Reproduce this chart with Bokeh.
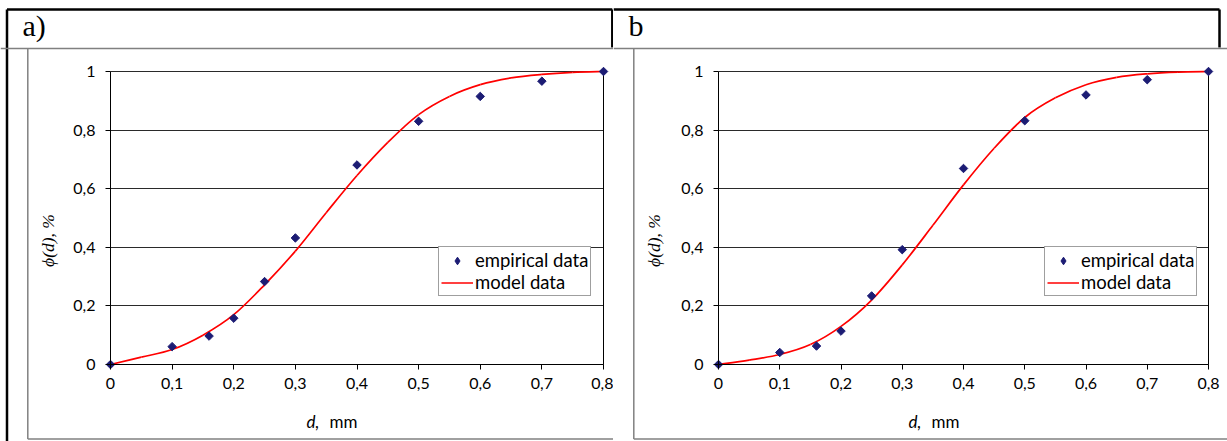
import math
from bokeh.plotting import figure
from bokeh.layouts import row
from bokeh.models import (Range1d, FixedTicker, CustomJSTickFormatter, Legend,
                          LegendItem, Label, Arrow)
from bokeh.embed import file_html
from bokeh.resources import INLINE

# ---------------- data ----------------
d_emp = [0, 0.1, 0.16, 0.2, 0.25, 0.3, 0.4, 0.5, 0.6, 0.7, 0.8]
phi_emp_a = [0, 0.061, 0.097, 0.158, 0.283, 0.432, 0.681, 0.830, 0.915, 0.967, 1.0]
phi_emp_b = [0, 0.041, 0.063, 0.114, 0.234, 0.392, 0.669, 0.832, 0.920, 0.972, 1.0]

d_model = [0, 0.05, 0.1, 0.15, 0.2, 0.25, 0.3, 0.35, 0.4, 0.45, 0.5, 0.55, 0.6,
           0.65, 0.7, 0.75, 0.8]
phi_model_a = [0, 0.025, 0.051, 0.100, 0.170, 0.272, 0.387, 0.518, 0.645, 0.758,
               0.853, 0.915, 0.955, 0.978, 0.990, 0.997, 1.0]
phi_model_b = [0, 0.015, 0.034, 0.068, 0.130, 0.220, 0.340, 0.475, 0.613, 0.738,
               0.843, 0.910, 0.955, 0.980, 0.992, 0.998, 1.0]

x_ticks = [0, 0.1, 0.2, 0.3, 0.4, 0.5, 0.6, 0.7, 0.8]
x_tick_labels = ["0", "0,1", "0,2", "0,3", "0,4", "0,5", "0,6", "0,7", "0,8"]
y_ticks = [0, 0.2, 0.4, 0.6, 0.8, 1.0]
y_tick_labels = ["0", "0,2", "0,4", "0,6", "0,8", "1"]

series_labels = ["empirical data", "model data"]
panel_tags = ["a)", "b"]
y_label = "\u03d5(d), %"
x_label_var = "d,"
x_label_unit = "mm"

# ---------------- layout / styling ----------------
H = 441
X_MIN, X_MAX = 0.0, 0.8
Y_MIN, Y_MAX = 0.0, 1.0
FRAME_TOP = 71
FRAME_BOTTOM = 364
NAVY = "#1c1c74"
RED = "#ff0000"
GRAY = "#808080"
NAN = float("nan")

FMT_CODE = """
for (let i = 0; i < vals.length; i++) {
  if (Math.abs(vals[i] - tick) < 1e-6) return labs[i];
}
return "";
"""


def smooth_segments(xs, ys):
    """Cubic Bezier pieces through the given points (Excel-style smoothed line)."""
    n = len(xs)
    out = dict(x0=[], y0=[], x1=[], y1=[], cx0=[], cy0=[], cx1=[], cy1=[])
    for i in range(n - 1):
        a = max(i - 1, 0)
        b = min(i + 2, n - 1)
        out["x0"].append(xs[i]); out["y0"].append(ys[i])
        out["x1"].append(xs[i + 1]); out["y1"].append(ys[i + 1])
        out["cx0"].append(xs[i] + (xs[i + 1] - xs[a]) / 6)
        out["cy0"].append(ys[i] + (ys[i + 1] - ys[a]) / 6)
        out["cx1"].append(xs[i + 1] - (xs[b] - xs[i]) / 6)
        out["cy1"].append(ys[i + 1] - (ys[b] - ys[i]) / 6)
    return out


def make_panel(tag, phi_emp, phi_model, canvas_w, plot_left, plot_right,
               tag_x, ylab_x, xlab_x, box_left, left_border, right_border, legend_left):
    kx = (plot_right - plot_left) / (X_MAX - X_MIN)
    ky = (FRAME_BOTTOM - FRAME_TOP) / (Y_MAX - Y_MIN)
    xr = Range1d(X_MIN - plot_left / kx, X_MAX + (canvas_w - plot_right) / kx)
    yr = Range1d(Y_MIN - (H - FRAME_BOTTOM) / ky, Y_MAX + FRAME_TOP / ky)

    p = figure(width=canvas_w, height=H, x_range=xr, y_range=yr,
               output_backend="svg", toolbar_location=None,
               min_border_left=0, min_border_right=0,
               min_border_top=0, min_border_bottom=0)
    p.background_fill_color = "white"
    p.border_fill_color = "white"
    p.outline_line_color = None

    for ax, ticks, labs, bnds in ((p.xaxis[0], x_ticks, x_tick_labels, (X_MIN, X_MAX)),
                                  (p.yaxis[0], y_ticks, y_tick_labels, (Y_MIN, Y_MAX))):
        ax.fixed_location = 0
        ax.bounds = bnds
        ax.ticker = FixedTicker(ticks=ticks)
        ax.formatter = CustomJSTickFormatter(args=dict(vals=ticks, labs=labs), code=FMT_CODE)
        ax.axis_line_color = "black"
        ax.axis_line_width = 1
        ax.major_tick_line_color = "black"
        ax.major_tick_out = 5
        ax.major_tick_in = 0
        ax.minor_tick_line_color = None
        ax.major_label_text_font = "Lato"
        ax.major_label_text_font_size = "16px"
        ax.major_label_text_color = "black"
    p.xaxis.major_label_standoff = 8
    p.yaxis.major_label_standoff = 10

    p.xgrid.visible = False
    p.ygrid.ticker = FixedTicker(ticks=y_ticks)
    p.ygrid.grid_line_color = "#2a2a2a"
    p.ygrid.grid_line_width = 1
    p.ygrid.bounds = (Y_MIN, Y_MAX)
    try:
        p.ygrid.cross_bounds = (X_MIN, X_MAX)
    except Exception:
        p.ygrid.visible = False
        p.segment(x0=[X_MIN] * len(y_ticks), x1=[X_MAX] * len(y_ticks),
                  y0=y_ticks, y1=y_ticks, line_color="#2a2a2a", line_width=1)

    # plot-area border on the right
    p.segment(x0=[X_MAX], x1=[X_MAX], y0=[Y_MIN], y1=[Y_MAX],
              line_color="black", line_width=1)

    # model curve (smoothed through the model points)
    p.bezier(line_color=RED, line_width=1.7, **smooth_segments(d_model, phi_model))
    ln_leg = p.line(x=[NAN, NAN], y=[NAN, NAN], line_color=RED, line_width=1.7)

    # empirical points
    p.scatter(d_emp, phi_emp, marker="square", angle=math.pi / 4, size=6,
              fill_color=NAVY, line_color=NAVY)
    sc_leg = p.scatter(x=[NAN], y=[NAN], marker="diamond", size=8,
                       fill_color=NAVY, line_color=NAVY)

    legend = Legend(items=[LegendItem(label=series_labels[0], renderers=[sc_leg]),
                           LegendItem(label=series_labels[1], renderers=[ln_leg])],
                    location=(legend_left, H - 296), margin=0, padding=2, spacing=0,
                    glyph_width=32, glyph_height=19, label_height=19,
                    label_standoff=2,
                    label_text_font="Lato", label_text_font_size="18.5px",
                    label_text_color="black",
                    border_line_color="#404040", border_line_width=1,
                    background_fill_color="white", background_fill_alpha=1)
    p.add_layout(legend)

    def seg(x0, y0, x1, y1, color, width):
        p.add_layout(Arrow(x_start=x0, y_start=H - y0, x_end=x1, y_end=H - y1,
                           start_units="screen", end_units="screen", end=None, start=None,
                           line_color=color, line_width=width))

    # table frame (black)
    seg(left_border if left_border is not None else 0, 9,
        right_border if right_border is not None else canvas_w, 9, "black", 2.5)
    if left_border is not None:
        seg(left_border, 9, left_border, H, "black", 2.5)
    if right_border is not None:
        seg(right_border, 9, right_border, 47, "black", 2.5)
    # chart box (gray)
    seg(0, 48, canvas_w, 48, GRAY, 1.5)
    seg(box_left, 48, box_left, 438.5, GRAY, 1.5)
    seg(box_left, 438.5, canvas_w, 438.5, GRAY, 1.5)

    # panel tag
    p.add_layout(Label(x=tag_x, y=H - 25, x_units="screen", y_units="screen",
                       text=tag, text_font="Liberation Serif", text_font_size="30px",
                       text_color="black", text_align="left", text_baseline="alphabetic"))
    # y axis label
    p.add_layout(Label(x=ylab_x, y=H - 240, x_units="screen", y_units="screen",
                       text=y_label, angle=math.pi / 2, text_font="Liberation Serif",
                       text_font_style="italic", text_font_size="17.5px",
                       text_color="black", text_align="center", text_baseline="middle"))
    # x axis label
    p.add_layout(Label(x=xlab_x, y=H - 421, x_units="screen", y_units="screen",
                       text=x_label_var, text_font="Lato", text_font_style="italic",
                       text_font_size="17px", text_color="black",
                       text_align="left", text_baseline="alphabetic"))
    p.add_layout(Label(x=xlab_x + 23, y=H - 421, x_units="screen", y_units="screen",
                       text=x_label_unit, text_font="Lato",
                       text_font_size="17px", text_color="black",
                       text_align="left", text_baseline="alphabetic"))
    return p


pa = make_panel(panel_tags[0], phi_emp_a, phi_model_a, canvas_w=613,
                plot_left=110, plot_right=603, tag_x=22, ylab_x=47, xlab_x=306,
                box_left=27.3, left_border=6.5, right_border=611.8, legend_left=438)
pb = make_panel(panel_tags[1], phi_emp_b, phi_model_b, canvas_w=614,
                plot_left=105, plot_right=595, tag_x=15, ylab_x=40, xlab_x=295,
                box_left=20.3, left_border=None, right_border=606, legend_left=431)

layout = row(pa, pb, spacing=0)
open("out.html", "w").write(file_html(layout, INLINE))
